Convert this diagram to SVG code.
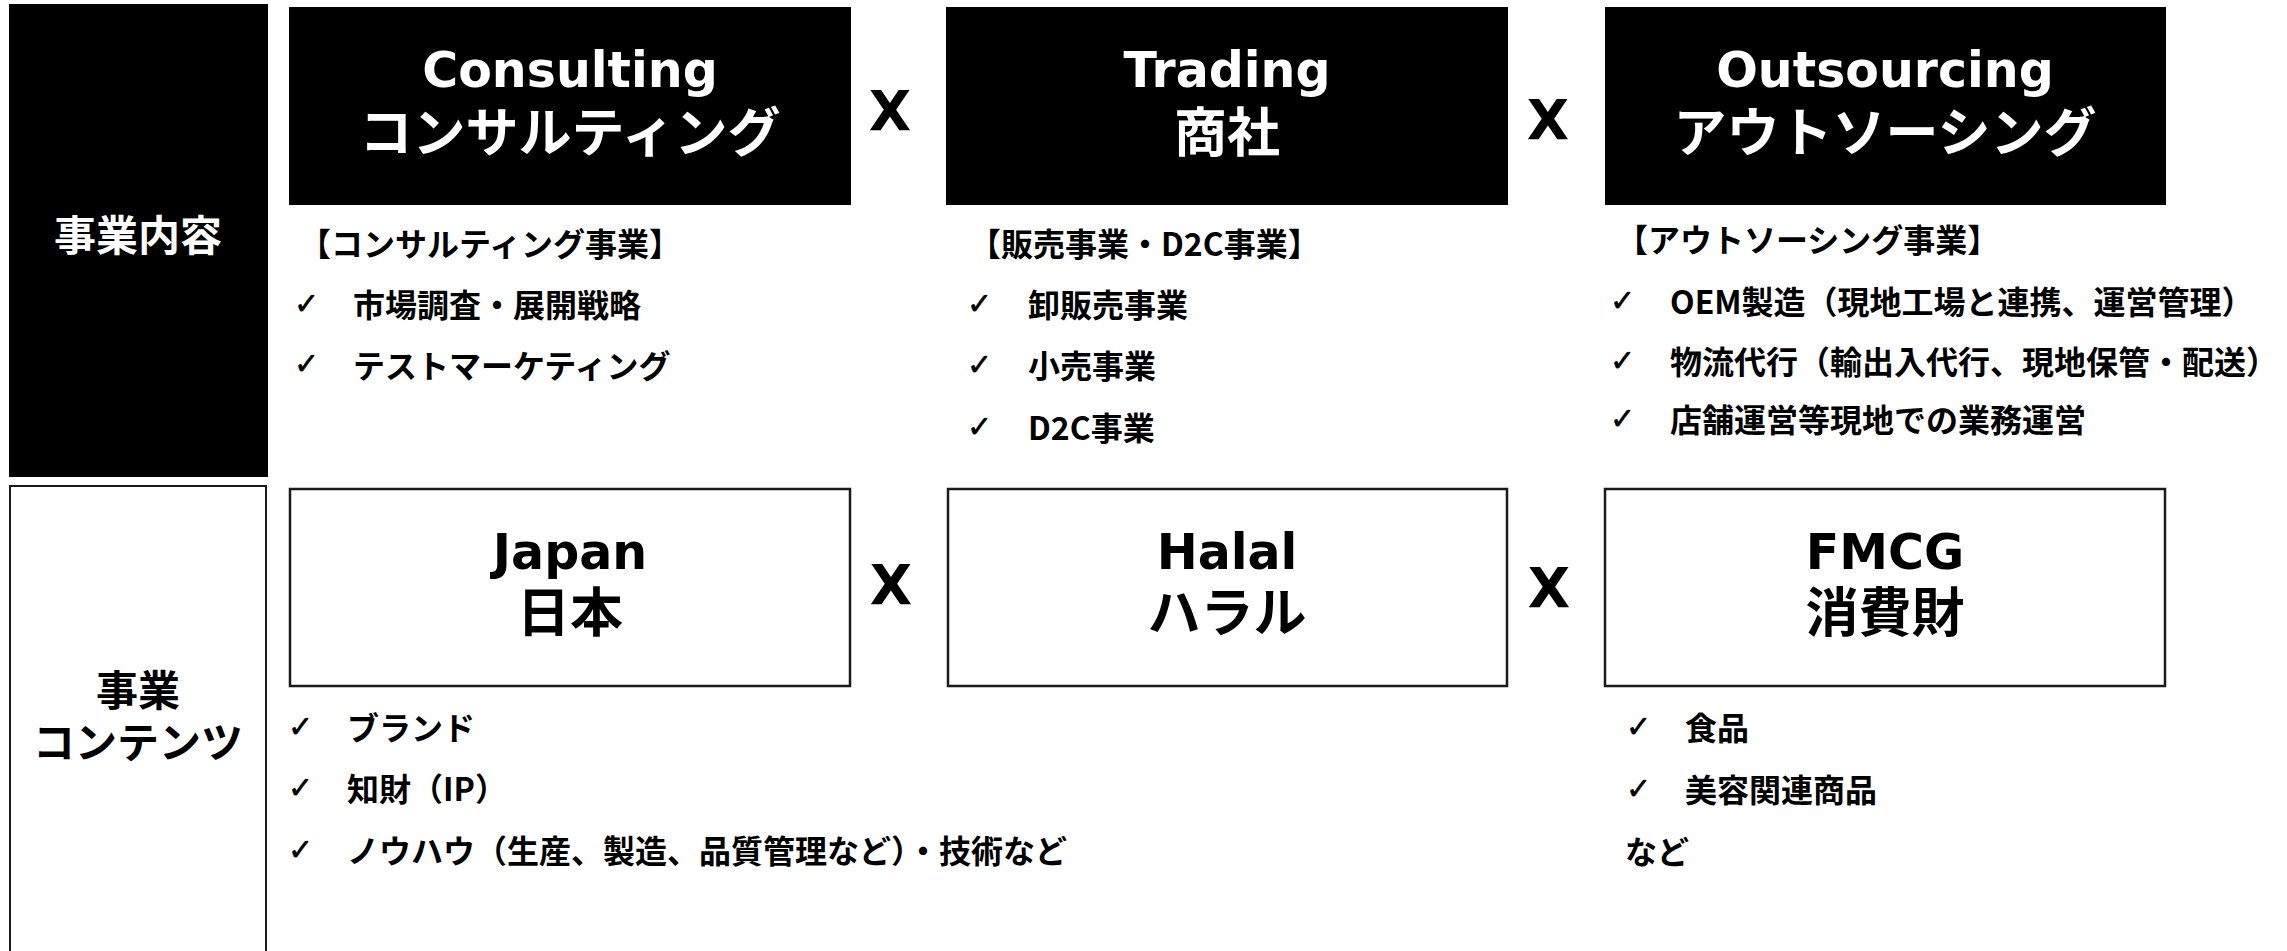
<svg xmlns="http://www.w3.org/2000/svg" width="2287" height="951" viewBox="0 0 2287 951">
<style>
.bg{fill:#fff}
.blk{fill:#000}
.wbox{fill:#fff;stroke:#1a1a1a;stroke-width:2.5}
.side{fill:#fff;stroke:#1a1a1a;stroke-width:2}
.ttl{text-anchor:middle;font-weight:bold}
.lat{font-family:"DejaVu Sans",sans-serif;font-size:49px}
.cjk{font-family:"Noto Sans CJK JP",sans-serif;font-size:53px}
.lab{font-family:"Noto Sans CJK JP",sans-serif;font-weight:bold;font-size:42px;text-anchor:middle}
.item{font-family:"Noto Sans CJK JP",sans-serif;font-weight:bold;font-size:32px;fill:#000}
.chk{font-family:"DejaVu Sans",sans-serif;font-size:30px;fill:#000;stroke:#000;stroke-width:0.6}
.op{font-family:"DejaVu Sans",sans-serif;font-weight:bold;font-size:55px;text-anchor:middle;fill:#000}
.w{fill:#fff}
.k{fill:#000}
</style>
<rect class="bg" x="0" y="0" width="2287" height="951"/>

<g id="row-business">
  <rect class="blk" x="9" y="4" width="259" height="473"/>
  <text class="lab w" x="138" y="251">事業内容</text>
</g>
<g id="row-contents">
  <rect class="side" x="10" y="486" width="256" height="480"/>
  <text class="lab k" x="138"><tspan x="138" y="706">事業</tspan><tspan x="138" y="758">コンテンツ</tspan></text>
</g>

<g id="node-consulting">
  <rect class="blk" x="289" y="7" width="562" height="198"/>
  <text class="ttl w"><tspan class="lat" x="570" y="87">Consulting</tspan><tspan class="cjk" x="570" y="152">コンサルティング</tspan></text>
</g>
<g id="node-trading">
  <rect class="blk" x="946" y="7" width="562" height="198"/>
  <text class="ttl w"><tspan class="lat" x="1227" y="87">Trading</tspan><tspan class="cjk" x="1227" y="152">商社</tspan></text>
</g>
<g id="node-outsourcing">
  <rect class="blk" x="1605" y="7" width="561" height="198"/>
  <text class="ttl w"><tspan class="lat" x="1885" y="87">Outsourcing</tspan><tspan class="cjk" x="1885" y="152">アウトソーシング</tspan></text>
</g>

<g id="list-consulting">
  <text class="item" x="299" y="256">【コンサルティング事業】</text>
  <text class="chk" x="294" y="314">✓</text>
  <text class="item" x="353" y="317">市場調査・展開戦略</text>
  <text class="chk" x="294" y="374">✓</text>
  <text class="item" x="353" y="378">テストマーケティング</text>
</g>
<g id="list-trading">
  <text class="item" x="969" y="256">【販売事業・D2C事業】</text>
  <text class="chk" x="967" y="314">✓</text>
  <text class="item" x="1028" y="317">卸販売事業</text>
  <text class="chk" x="967" y="375">✓</text>
  <text class="item" x="1028" y="378">小売事業</text>
  <text class="chk" x="967" y="437">✓</text>
  <text class="item" x="1028" y="440">D2C事業</text>
</g>
<g id="list-outsourcing">
  <text class="item" x="1616" y="252">【アウトソーシング事業】</text>
  <text class="chk" x="1610" y="311">✓</text>
  <text class="item" x="1670" y="314">OEM製造（現地工場と連携、運営管理）</text>
  <text class="chk" x="1610" y="371">✓</text>
  <text class="item" x="1670" y="374">物流代行（輸出入代行、現地保管・配送）</text>
  <text class="chk" x="1610" y="429">✓</text>
  <text class="item" x="1670" y="432">店舗運営等現地での業務運営</text>
</g>

<g id="node-japan">
  <rect class="wbox" x="290" y="489" width="560" height="197"/>
  <text class="ttl k"><tspan class="lat" x="570" y="569">Japan</tspan><tspan class="cjk" x="570" y="632">日本</tspan></text>
</g>
<g id="node-halal">
  <rect class="wbox" x="948" y="489" width="559" height="197"/>
  <text class="ttl k"><tspan class="lat" x="1227" y="569">Halal</tspan><tspan class="cjk" x="1227" y="632">ハラル</tspan></text>
</g>
<g id="node-fmcg">
  <rect class="wbox" x="1605" y="489" width="560" height="197"/>
  <text class="ttl k"><tspan class="lat" x="1885" y="569">FMCG</tspan><tspan class="cjk" x="1885" y="632">消費財</tspan></text>
</g>

<g id="list-japan">
  <text class="chk" x="288" y="737">✓</text>
  <text class="item" x="347" y="740">ブランド</text>
  <text class="chk" x="288" y="798">✓</text>
  <text class="item" x="347" y="801">知財（IP）</text>
  <text class="chk" x="288" y="860">✓</text>
  <text class="item" x="347" y="863">ノウハウ（生産、製造、品質管理など）・技術など</text>
</g>
<g id="list-fmcg">
  <text class="chk" x="1626" y="737">✓</text>
  <text class="item" x="1685" y="740">食品</text>
  <text class="chk" x="1626" y="799">✓</text>
  <text class="item" x="1685" y="802">美容関連商品</text>
  <text class="item" x="1625" y="864">など</text>
</g>

<g id="connectors">
  <text class="op" x="890" y="130">X</text>
  <text class="op" x="1548" y="139">X</text>
  <text class="op" x="891" y="604">X</text>
  <text class="op" x="1549" y="607">X</text>
</g>
</svg>
